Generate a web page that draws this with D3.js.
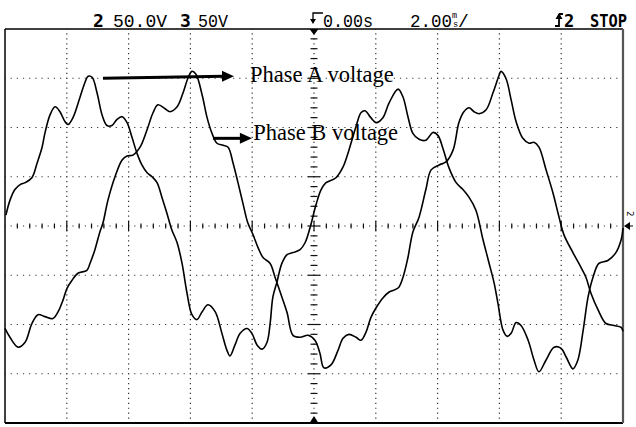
<!DOCTYPE html>
<html>
<head>
<meta charset="utf-8">
<script src="https://cdn.jsdelivr.net/npm/d3@7"></script>
<style>
  html, body { margin: 0; padding: 0; background: #fff; }
  svg { display: block; }
</style>
</head>
<body>
<svg id="scope" width="636" height="427"></svg>
<script>
// Phase A voltage: time (ms from trigger) and volts
const phaseATime = [-9.97,-9.84,-9.68,-9.51,-9.35,-9.13,-8.96,-8.80,-8.71,-8.54,-8.38,-8.22,-8.06,-7.96,-7.80,-7.57,-7.41,-7.31,-7.18,-7.02,-6.86,-6.70,-6.54,-6.38,-6.21,-6.05,-5.89,-5.73,-5.57,-5.40,-5.24,-5.08,-4.92,-4.76,-4.60,-4.43,-4.27,-4.11,-3.95,-3.79,-3.62,-3.43,-3.20,-2.98,-2.82,-2.72,-2.56,-2.39,-2.17,-2.01,-1.84,-1.68,-1.52,-1.42,-1.33,-1.20,-1.04,-0.87,-0.68,-0.45,-0.29,-0.13,0.06,0.23,0.39,0.71,0.94,1.13,1.36,1.52,1.65,1.84,2.01,2.23,2.43,2.72,2.88,3.04,3.20,3.40,3.62,3.85,4.01,4.17,4.37,4.60,4.82,5.02,5.24,5.47,5.66,5.83,5.95,6.12,6.25,6.38,6.54,6.70,6.93,7.12,7.28,7.51,7.77,7.99,8.16,8.38,8.54,8.71,8.87,9.03,9.22,9.51,9.77,9.94,10.0];
const phaseAVolt = [11,26,37,42,44,49,64,80,94,113,121,116,106,103,110,131,146,152,151,135,113,102,102,108,111,105,90,74,62,54,50,44,29,13,-4,-17,-38,-68,-90,-95,-87,-80,-87,-109,-126,-132,-121,-109,-104,-109,-121,-125,-118,-99,-72,-57,-38,-29,-27,-24,-17,-2,21,37,44,49,60,77,101,115,117,110,105,110,125,139,131,111,94,88,87,95,92,79,59,44,37,29,16,-14,-37,-58,-78,-106,-112,-109,-98,-101,-116,-136,-148,-136,-123,-124,-133,-145,-136,-106,-72,-52,-38,-35,-27,-14,-2];

// Phase B voltage: time (ms from trigger) and volts
const phaseBTime = [-10.0,-9.84,-9.58,-9.35,-9.13,-8.93,-8.71,-8.45,-8.28,-8.12,-7.99,-7.83,-7.64,-7.35,-7.25,-7.09,-6.93,-6.83,-6.67,-6.44,-6.21,-6.05,-5.86,-5.63,-5.40,-5.21,-5.05,-4.82,-4.66,-4.43,-4.24,-4.08,-3.95,-3.82,-3.62,-3.46,-3.30,-3.14,-2.94,-2.78,-2.62,-2.46,-2.30,-2.14,-1.97,-1.81,-1.65,-1.42,-1.26,-1.04,-0.87,-0.68,-0.45,-0.19,0.03,0.19,0.32,0.55,0.78,0.94,1.13,1.36,1.52,1.68,1.84,2.01,2.23,2.43,2.72,2.88,3.04,3.20,3.40,3.62,3.79,4.05,4.27,4.50,4.69,4.85,5.02,5.18,5.34,5.57,5.79,5.99,6.05,6.21,6.38,6.54,6.76,6.96,7.12,7.28,7.51,7.73,7.93,8.09,8.38,8.64,8.80,8.96,9.19,9.45,9.71,9.94,10.0];
const phaseBVolt = [-104,-113,-123,-118,-99,-90,-92,-94,-87,-75,-63,-55,-48,-45,-38,-24,-6,3,26,50,67,71,72,80,98,115,123,119,116,121,135,150,157,154,133,110,94,84,82,80,64,44,23,3,-9,-22,-32,-38,-52,-72,-88,-111,-113,-111,-116,-129,-144,-141,-126,-114,-110,-113,-116,-108,-93,-83,-73,-67,-63,-52,-32,-6,9,37,57,62,65,77,105,116,120,116,114,118,135,153,157,150,128,106,89,84,85,80,57,34,9,-9,-27,-42,-52,-68,-85,-99,-101,-103,-107];

// Screen: 10 horizontal divisions of 2 ms, 8 vertical divisions of 50 V
const timeDomain = [-10, 10];
const voltDomain = [-200, 200];
const timeGrid = [-8, -6, -4, -2, 0, 2, 4, 6, 8];
const voltGrid = [-150, -100, -50, 0, 50, 100, 150];

// Status line texts
const channelLabels = ["2", "50.0V", "3", "50V"];
const timebaseLabels = ["0.00s", "2.00", "m", "s", "/"];
const runLabels = ["2", "STOP"];
const annotationLabels = ["Phase A voltage", "Phase B voltage"];

const svg = d3.select("#scope");
const x = d3.scaleLinear().domain(timeDomain).range([5, 623]);
const y = d3.scaleLinear().domain(voltDomain).range([423, 29]);
const divX = x(2) - x(0);
const divY = y(0) - y(50);

// Dotted graticule
const grid = svg.append("g").attr("stroke", "#333").attr("stroke-width", 1.2);
grid.selectAll("line.gv").data(timeGrid).join("line")
  .attr("class", "gv")
  .attr("x1", d => x(d)).attr("x2", d => x(d))
  .attr("y1", y(200)).attr("y2", y(-200))
  .attr("stroke-dasharray", `1.2 ${divY / 10 - 1.2}`)
  .attr("stroke-dashoffset", 0.6);
grid.selectAll("line.gh").data(voltGrid).join("line")
  .attr("class", "gh")
  .attr("y1", d => y(d)).attr("y2", d => y(d))
  .attr("x1", x(-10)).attr("x2", x(10))
  .attr("stroke-dasharray", `1.2 ${divX / 10 - 1.2}`)
  .attr("stroke-dashoffset", 0.6);

// Centre axes with fine ticks (5 per division)
const axes = svg.append("g").attr("stroke", "#111").attr("stroke-width", 1.2);
const hTicks = d3.range(1, 50).map(i => ({ t: -10 + i * 0.4, major: i % 5 === 0 }));
axes.selectAll("line.ht").data(hTicks).join("line")
  .attr("class", "ht")
  .attr("x1", d => x(d.t)).attr("x2", d => x(d.t))
  .attr("y1", d => y(0) - (d.major ? 5 : 2.5))
  .attr("y2", d => y(0) + (d.major ? 5 : 2.5));
const vTicks = d3.range(1, 40).map(i => ({ v: -200 + i * 10, major: i % 5 === 0 }));
axes.selectAll("line.vt").data(vTicks).join("line")
  .attr("class", "vt")
  .attr("y1", d => y(d.v)).attr("y2", d => y(d.v))
  .attr("x1", d => x(0) - (d.major ? 6 : 3.5))
  .attr("x2", d => x(0) + (d.major ? 6 : 3.5));

// Trigger position markers (top and bottom of the centre line)
svg.append("path")
  .attr("d", `M${x(0) - 4.5},${y(200)} L${x(0) + 4.5},${y(200)} L${x(0)},${y(200) + 6} Z`)
  .attr("fill", "#000");
svg.append("path")
  .attr("d", `M${x(0) - 4.5},${y(-200)} L${x(0) + 4.5},${y(-200)} L${x(0)},${y(-200) - 7} Z`)
  .attr("fill", "#000");

// Screen border
svg.append("line").attr("x1", x(-10)).attr("x2", x(10)).attr("y1", y(200)).attr("y2", y(200))
  .attr("stroke", "#000").attr("stroke-width", 1.5);
svg.append("line").attr("x1", x(-10)).attr("x2", x(10)).attr("y1", y(-200)).attr("y2", y(-200))
  .attr("stroke", "#000").attr("stroke-width", 2);
svg.append("line").attr("x1", x(-10)).attr("x2", x(-10)).attr("y1", y(200)).attr("y2", y(-200))
  .attr("stroke", "#000").attr("stroke-width", 1.5);
svg.append("line").attr("x1", x(10)).attr("x2", x(10)).attr("y1", y(200)).attr("y2", y(-200))
  .attr("stroke", "#555").attr("stroke-width", 2.2);

// Waveforms
const line = d3.line()
  .x(d => x(d[0]))
  .y(d => y(d[1]))
  .curve(d3.curveCatmullRom.alpha(0.5));
const traces = [d3.zip(phaseATime, phaseAVolt), d3.zip(phaseBTime, phaseBVolt)];
svg.append("g").selectAll("path").data(traces).join("path")
  .attr("d", line)
  .attr("fill", "none")
  .attr("stroke", "#000")
  .attr("stroke-width", 1.6)
  .attr("stroke-linejoin", "round");

// Channel 2 ground reference marker on the right edge
svg.append("path")
  .attr("d", `M${x(10) + 1},${y(0)} L${x(10) + 7},${y(0) - 4} L${x(10) + 7},${y(0) + 4} Z`)
  .attr("fill", "#000");
svg.append("line").attr("x1", x(10) + 3).attr("x2", x(10) + 10).attr("y1", y(0)).attr("y2", y(0))
  .attr("stroke", "#000").attr("stroke-width", 1);
svg.append("text")
  .attr("transform", `translate(${x(10) + 4},${y(0) - 15}) rotate(90)`)
  .attr("font-family", "DejaVu Sans Mono").attr("font-size", 9).attr("fill", "#000")
  .text("2");

// Status line
const mono = "Liberation Mono, DejaVu Sans Mono, monospace";
const monoBold = "DejaVu Sans Mono, monospace";
const status = svg.append("g").attr("font-family", mono).attr("fill", "#000");
status.append("text").attr("x", 93).attr("y", 26.5).attr("font-size", 18).attr("font-weight", "bold")
  .attr("font-family", monoBold).text(channelLabels[0]);
status.append("text").attr("x", 113).attr("y", 26.5).attr("font-size", 18)
  .attr("textLength", 54).attr("lengthAdjust", "spacingAndGlyphs").text(channelLabels[1]);
status.append("text").attr("x", 180).attr("y", 26.5).attr("font-size", 18).attr("font-weight", "bold")
  .attr("font-family", monoBold).text(channelLabels[2]);
status.append("text").attr("x", 198).attr("y", 26.5).attr("font-size", 18)
  .attr("textLength", 30).attr("lengthAdjust", "spacingAndGlyphs").text(channelLabels[3]);

// trigger point symbol
status.append("path")
  .attr("d", `M${x(0) + 9},13 H${x(0) - 1} V22`)
  .attr("fill", "none").attr("stroke", "#000").attr("stroke-width", 1.3);
status.append("path")
  .attr("d", `M${x(0) - 4},19 L${x(0) + 2},19 L${x(0) - 1},24 Z`);
status.append("text").attr("x", 323).attr("y", 26.5).attr("font-size", 18)
  .attr("textLength", 50).attr("lengthAdjust", "spacingAndGlyphs").text(timebaseLabels[0]);
status.append("text").attr("x", 410).attr("y", 26.5).attr("font-size", 18)
  .attr("textLength", 42).attr("lengthAdjust", "spacingAndGlyphs").text(timebaseLabels[1]);
status.append("text").attr("x", 452).attr("y", 18).attr("font-size", 8.5).text(timebaseLabels[2]);
status.append("text").attr("x", 453).attr("y", 27).attr("font-size", 8.5).text(timebaseLabels[3]);
status.append("text").attr("x", 458).attr("y", 26.5).attr("font-size", 18).text(timebaseLabels[4]);

// trigger slope symbol, source and run state
status.append("path")
  .attr("d", "M555,26 H559 V14 M559,14 H563")
  .attr("fill", "none").attr("stroke", "#000").attr("stroke-width", 1.8);
status.append("path").attr("d", "M555.5,19 L559,13 L562.5,19 Z");
status.append("text").attr("x", 564).attr("y", 26.5).attr("font-size", 17).attr("font-weight", "bold")
  .attr("font-family", monoBold).text(runLabels[0]);
status.append("text").attr("x", 590).attr("y", 26.5).attr("font-size", 17).attr("font-weight", "bold")
  .attr("font-family", monoBold)
  .attr("textLength", 37).attr("lengthAdjust", "spacingAndGlyphs").text(runLabels[1]);

// Annotation arrows and labels
const arrows = [
  { from: [-6.83, 150], to: [-2.59, 152], label: annotationLabels[0], at: [-2.07, 146] },
  { from: [-3.27, 89], to: [-2.01, 89], label: annotationLabels[1], at: [-1.97, 87] }
];
const ann = svg.append("g");
arrows.forEach(a => {
  const x1 = x(a.from[0]), y1 = y(a.from[1]), x2 = x(a.to[0]), y2 = y(a.to[1]);
  ann.append("line").attr("x1", x1).attr("y1", y1).attr("x2", x2 - 10).attr("y2", y2)
    .attr("stroke", "#000").attr("stroke-width", 3);
  ann.append("path")
    .attr("d", `M${x2},${y2} L${x2 - 12},${y2 - 5.5} L${x2 - 12},${y2 + 5.5} Z`)
    .attr("fill", "#000");
  ann.append("text")
    .attr("x", x(a.at[0])).attr("y", y(a.at[1]))
    .attr("font-family", "Liberation Serif, Times New Roman, serif")
    .attr("font-size", 22.5).attr("fill", "#000")
    .text(a.label);
});
</script>
</body>
</html>
